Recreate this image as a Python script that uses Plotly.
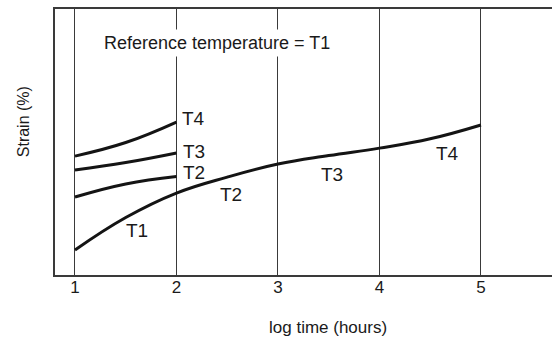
import plotly.graph_objects as go

# ---- data ----
log_time_main = [1, 1.5, 2, 2.5, 3, 3.5, 4, 4.5, 5]
strain_master = [0.94, 2.16, 3.08, 3.68, 4.17, 4.49, 4.77, 5.12, 5.64]

log_time_short = [1, 1.5, 2]
strain_T2 = [2.93, 3.42, 3.70]
strain_T3 = [3.95, 4.23, 4.59]
strain_T4 = [4.47, 4.98, 5.75]

x_ticks = [1, 2, 3, 4, 5]
x_tick_labels = ["1", "2", "3", "4", "5"]

curve_labels = ["T4", "T3", "T2", "T1", "T2", "T3", "T4"]
label_x = [2.17, 2.17, 2.17, 1.61, 2.54, 3.53, 4.67]
label_y = [5.90, 4.66, 3.87, 1.69, 3.01, 3.76, 4.55]

title_text = "Reference temperature = T1"
x_title = "log time (hours)"
y_title = "Strain (%)"

FONT = "Liberation Sans, Arial, Helvetica, sans-serif"
LINE = dict(color="#141414", width=3, shape="spline", smoothing=1.2)

fig = go.Figure()
for xs, ys in [(log_time_main, strain_master),
               (log_time_short, strain_T2),
               (log_time_short, strain_T3),
               (log_time_short, strain_T4)]:
    fig.add_trace(go.Scatter(x=xs, y=ys, mode="lines", line=LINE,
                             showlegend=False, hoverinfo="skip"))

annotations = []
for t, x, y in zip(curve_labels, label_x, label_y):
    annotations.append(dict(x=x, y=y, xref="x", yref="y", text=t, showarrow=False,
                            font=dict(family=FONT, size=19, color="#1a1a1a"),
                            xanchor="center", yanchor="middle"))
annotations.append(dict(x=2.40, y=8.72, xref="x", yref="y", text=title_text,
                        showarrow=False, bgcolor="white", borderpad=3,
                        font=dict(family=FONT, size=18, color="#1a1a1a"),
                        xanchor="center", yanchor="middle"))
annotations.append(dict(x=0.549, y=-0.199, xref="paper", yref="paper", text=x_title,
                        showarrow=False, font=dict(family=FONT, size=17, color="#1a1a1a"),
                        xanchor="center", yanchor="middle"))
annotations.append(dict(x=-0.064, y=0.575, xref="paper", yref="paper", text=y_title,
                        showarrow=False, textangle=-90,
                        font=dict(family=FONT, size=16, color="#1a1a1a"),
                        xanchor="center", yanchor="middle"))

fig.update_layout(
    width=552, height=337,
    margin=dict(l=55, r=0, t=9, b=62),
    paper_bgcolor="white", plot_bgcolor="white",
    annotations=annotations,
    xaxis=dict(range=[0.803, 5.70], tickvals=x_ticks, ticktext=x_tick_labels,
               showgrid=True, gridcolor="#3a3a3a", gridwidth=1.3,
               zeroline=False, showline=True, linecolor="#3a3a3a", linewidth=1.5,
               mirror=True, ticks="", ticklabelstandoff=-4,
               tickfont=dict(family=FONT, size=17, color="#1a1a1a")),
    yaxis=dict(range=[0, 10], showgrid=False, zeroline=False, showticklabels=False,
               showline=True, linecolor="#3a3a3a", linewidth=1.5, mirror=False, ticks=""),
)

fig.write_html("out.html")
